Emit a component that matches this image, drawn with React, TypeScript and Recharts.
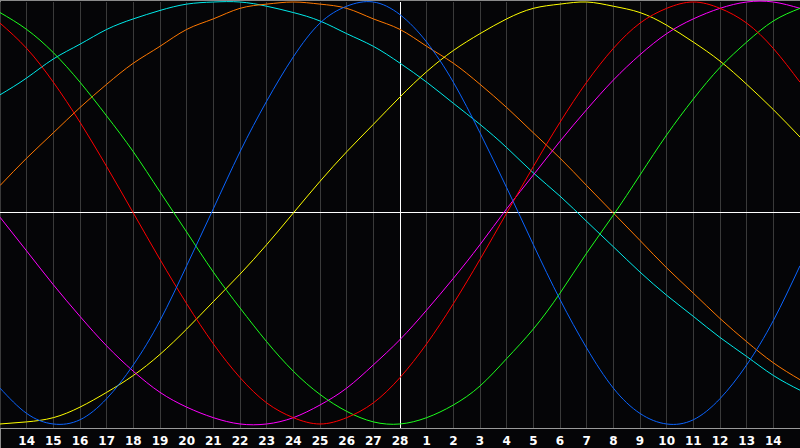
import { LineChart, Line, XAxis, YAxis, CartesianGrid, ReferenceLine } from "recharts"

// day labels for each column, index 0..30
const dayLabels = [
  "13", "14", "15", "16", "17", "18", "19", "20", "21", "22", "23", "24", "25", "26", "27", "28",
  "1", "2", "3", "4", "5", "6", "7", "8", "9", "10", "11", "12", "13", "14", "15",
]

const red = [90, 78, 62, 43, 22, 0, -22, -43, -62, -78, -90, -97, -100, -97, -90, -78, -62, -43, -22, 0, 22, 43, 62, 78, 90, 97, 100, 97, 90, 78, 62]
const green = [95, 87, 76, 62, 46, 29, 10, -9, -28, -45, -61, -75, -86, -94, -99, -100, -97, -91, -82, -69, -55, -38, -19, -1, 18, 37, 54, 69, 81, 91, 97]
const blue = [-83, -95, -100, -98, -88, -72, -51, -25, 2, 29, 53, 74, 90, 98, 100, 94, 81, 62, 38, 12, -15, -41, -64, -83, -95, -100, -98, -88, -72, -51, -25]
const magenta = [-2, -18, -34, -49, -63, -75, -85, -92, -97, -100, -100, -97, -91, -83, -72, -60, -46, -31, -15, 2, 18, 34, 49, 63, 75, 85, 92, 97, 100, 100, 97]
const cyan = [56, 64, 73, 80, 87, 92, 96, 99, 100, 100, 98, 95, 91, 85, 79, 71, 62, 52, 42, 31, 19, 8, -4, -16, -28, -39, -49, -59, -68, -77, -84]
const orange = [13, 26, 38, 50, 61, 71, 79, 87, 92, 97, 99, 100, 99, 97, 92, 87, 79, 71, 61, 50, 38, 26, 13, 0, -13, -26, -38, -50, -61, -71, -79]
const yellow = [-100, -99, -97, -92, -85, -77, -67, -55, -42, -29, -15, 0, 15, 29, 42, 55, 67, 77, 85, 92, 97, 99, 100, 98, 95, 89, 81, 72, 61, 49, 36]

const tickIdx = dayLabels.map((_, i) => i).slice(1, 30)

const data = dayLabels.map((label, i) => ({
  i,
  label,
  red: red[i],
  green: green[i],
  blue: blue[i],
  magenta: magenta[i],
  cyan: cyan[i],
  orange: orange[i],
  yellow: yellow[i],
}))

const series = [
  { key: "cyan", color: "#00eaea" },
  { key: "orange", color: "#ff7800" },
  { key: "yellow", color: "#ffff00" },
  { key: "magenta", color: "#ff00ff" },
  { key: "green", color: "#1cff1c" },
  { key: "red", color: "#ff0000" },
  { key: "blue", color: "#0a64ff" },
]

export default function App() {
  return (
    <div
      style={{
        width: 800,
        height: 448,
        background: "#050507",
        boxShadow: "inset 1px 1px 0 #8a8a8a",
      }}
    >
      <style>{"body{margin:0;background:#050507}"}</style>
      <LineChart width={800} height={448} data={data} margin={{ top: 2, right: 0, bottom: 0, left: 0 }}>
        <CartesianGrid horizontal={false} stroke="#3a3a3a" shapeRendering="crispEdges" />
        <XAxis
          dataKey="i"
          type="number"
          domain={[0, 30]}
          ticks={tickIdx}
          interval={0}
          height={20}
          tickLine={false}
          axisLine={{ stroke: "#9a9a9a", shapeRendering: "crispEdges" }}
          tickFormatter={(v) => dayLabels[v]}
          tick={{ fill: "#ffffff", fontSize: 12, fontWeight: "bold", fontFamily: "DejaVu Sans" }}
        />
        <YAxis hide type="number" domain={[-101.9, 100]} />
        <ReferenceLine y={0} stroke="#ffffff" shapeRendering="crispEdges" />
        <ReferenceLine x={15} stroke="#ffffff" shapeRendering="crispEdges" />
        {series.map((s) => (
          <Line
            key={s.key}
            type="natural"
            dataKey={s.key}
            stroke={s.color}
            strokeWidth={1}
            dot={false}
            isAnimationActive={false}
          />
        ))}
      </LineChart>
    </div>
  )
}
